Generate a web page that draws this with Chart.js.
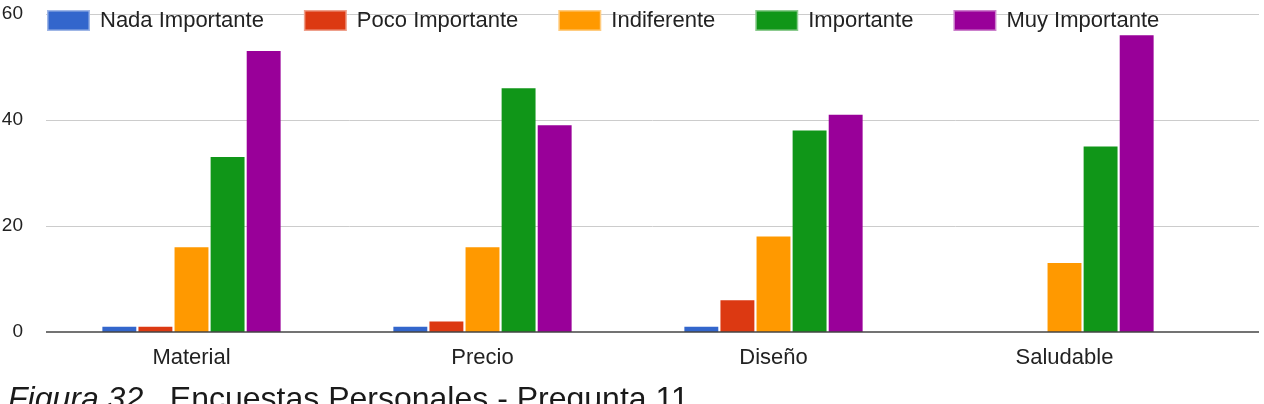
<!DOCTYPE html>
<html>
<head>
<meta charset="utf-8">
<script src="https://cdn.jsdelivr.net/npm/chart.js@4.4.1/dist/chart.umd.min.js"></script>
<style>
  html, body { margin: 0; padding: 0; background: #fff; overflow: hidden; }
  #wrap { position: relative; width: 1264px; height: 404px; }
  #c { position: absolute; left: 0; top: 0; }
  #caption { position: absolute; left: 8px; top: 382px; font-family: "Liberation Sans", Arial, sans-serif;
             font-size: 32px; line-height: 32px; color: #1a1a1a; white-space: nowrap; }
  #caption i { font-style: italic; }
</style>
</head>
<body>
<div id="wrap">
  <canvas id="c" width="1264" height="404"></canvas>
  <div id="caption"><i>Figura 32.</i>&nbsp; Encuestas Personales - Pregunta 11</div>
</div>
<script>
const categories = ['Material', 'Precio', 'Diseño', 'Saludable'];
const seriesNames = ['Nada Importante', 'Poco Importante', 'Indiferente', 'Importante', 'Muy Importante'];
const nadaImportante = [1, 1, 1, 0];
const pocoImportante = [1, 2, 6, 0];
const indiferente = [16, 16, 18, 13];
const importante = [33, 46, 38, 35];
const muyImportante = [53, 39, 41, 56];
const yTicks = [0, 20, 40, 60];
const seriesColors = ['#3366cc', '#dc3912', '#ff9900', '#109618', '#990099'];
const legendBorders = ['#9fb6e6', '#eea08c', '#ffcc80', '#8ccb8f', '#cc80cc'];

const seriesData = [nadaImportante, pocoImportante, indiferente, importante, muyImportante];
const FONT = '"Liberation Sans", Arial, sans-serif';
const GRID_RIGHT = 1259;

const gridPlugin = {
  id: 'extGrid',
  beforeDatasetsDraw(chart) {
    const ctx = chart.ctx, ys = chart.scales.y, left = chart.chartArea.left;
    ctx.save();
    ctx.strokeStyle = '#cccccc';
    ctx.lineWidth = 1;
    ys.ticks.forEach(t => {
      if (t.value === 0) return;
      const y = Math.round(ys.getPixelForValue(t.value)) + 0.5;
      ctx.beginPath(); ctx.moveTo(left, y); ctx.lineTo(GRID_RIGHT, y); ctx.stroke();
    });
    ctx.restore();
  },
  afterDatasetsDraw(chart) {
    const ctx = chart.ctx, ys = chart.scales.y, left = chart.chartArea.left;
    ctx.save();
    ctx.strokeStyle = '#444444';
    ctx.lineWidth = 1.5;
    const y = ys.getPixelForValue(0);
    ctx.beginPath(); ctx.moveTo(left, y); ctx.lineTo(GRID_RIGHT, y); ctx.stroke();
    ctx.restore();
  }
};

const legendPlugin = {
  id: 'topLegend',
  afterDraw(chart) {
    const ctx = chart.ctx;
    ctx.save();
    ctx.font = '22px ' + FONT;
    ctx.textBaseline = 'middle';
    ctx.textAlign = 'left';
    let x = 47;
    const boxW = 43, boxH = 21, boxY = 10, gapText = 10, gapItem = 40;
    chart.data.datasets.forEach((ds, i) => {
      ctx.fillStyle = legendBorders[i];
      ctx.fillRect(x, boxY, boxW, boxH);
      ctx.fillStyle = seriesColors[i];
      ctx.fillRect(x + 1.5, boxY + 1.5, boxW - 3, boxH - 3);
      ctx.fillStyle = '#222222';
      const tx = x + boxW + gapText;
      ctx.fillText(ds.label, tx, boxY + boxH / 2);
      x = tx + ctx.measureText(ds.label).width + gapItem;
    });
    ctx.restore();
  }
};

new Chart(document.getElementById('c'), {
  type: 'bar',
  data: {
    labels: categories,
    datasets: seriesNames.map((name, i) => ({
      label: name,
      data: seriesData[i],
      backgroundColor: seriesColors[i],
      borderWidth: 0,
      barPercentage: 0.94,
      categoryPercentage: 0.62
    }))
  },
  options: {
    responsive: false,
    animation: false,
    devicePixelRatio: 1,
    layout: { padding: { top: 14, right: 54, left: 0, bottom: 0 } },
    plugins: { legend: { display: false }, tooltip: { enabled: false } },
    scales: {
      x: {
        grid: { display: false, drawTicks: false },
        border: { display: false },
        ticks: { font: { family: FONT, size: 22 }, color: '#222222', padding: 13 },
        afterFit(s) { s.height = 72; s.paddingLeft = 0; s.paddingRight = 0; }
      },
      y: {
        min: 0, max: 60,
        afterBuildTicks(s) { s.ticks = yTicks.map(v => ({ value: v })); },
        grid: { display: false, drawTicks: false },
        border: { display: false },
        ticks: { font: { family: FONT, size: 19 }, color: '#222222', padding: 23 },
        afterFit(s) { s.width = 46; s.paddingTop = 0; s.paddingBottom = 0; }
      }
    }
  },
  plugins: [gridPlugin, legendPlugin]
});
</script>
</body>
</html>
